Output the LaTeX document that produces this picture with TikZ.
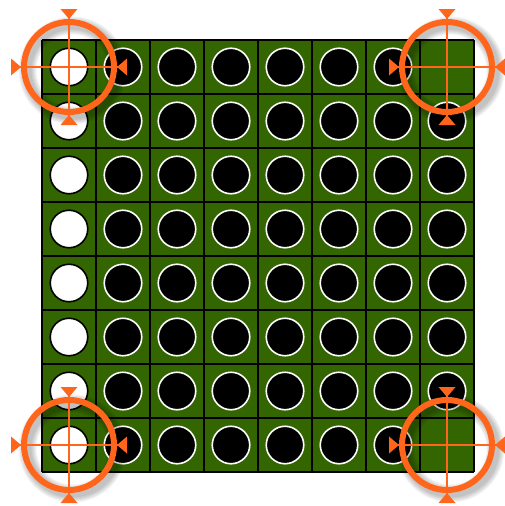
\documentclass[tikz,border=0pt]{standalone}
\definecolor{board}{RGB}{51,102,0}
\definecolor{ring}{RGB}{255,102,28}
\begin{document}
\begin{tikzpicture}[x=1pt,y=-1pt,
  grid/.style={draw=black,line width=2pt},
  blackdisc/.style={circle,fill=black,draw=white,line width=1.6pt,minimum size=37.5pt,inner sep=0pt},
  whitedisc/.style={circle,fill=white,draw=black,line width=1.6pt,minimum size=37.5pt,inner sep=0pt},
  target/.pic={
    \foreach \k in {1,...,6}{
      \draw[black,opacity=0.045,line width={6pt+2*\k pt}] (3.5,3.5) circle (45);
    }
    \draw[ring,line width=6pt] (0,0) circle (45);
    \draw[ring,line width=1.8pt] (-57,0) -- (57,0);
    \draw[ring,line width=1.8pt] (0,-57) -- (0,57);
    \fill[ring] (-58,-8.5) -- (-48,0) -- (-58,8.5) -- cycle;
    \fill[ring] (58,-8.5) -- (48,0) -- (58,8.5) -- cycle;
    \fill[ring] (-8.5,-58) -- (0,-48) -- (8.5,-58) -- cycle;
    \fill[ring] (-8.5,58) -- (0,48) -- (8.5,58) -- cycle;
  }]
\useasboundingbox (0,0) rectangle (504,506);
\fill[board] (42,40) rectangle (474,472);
\foreach \i in {0,...,8}{
  \draw[grid] (42+54*\i,40) -- (42+54*\i,472);
  \draw[grid] (42,40+54*\i) -- (474,40+54*\i);
}
% white column
\foreach \r in {0,...,7}{
  \node[whitedisc] (w\r) at (69,67+54*\r) {};
}
% black columns
\foreach \c in {1,...,6}{
  \foreach \r in {0,...,7}{
    \node[blackdisc] (b\c\r) at (69+54*\c,67+54*\r) {};
  }
}
\foreach \r in {1,...,6}{
  \node[blackdisc] (b7\r) at (447,67+54*\r) {};
}
% targets
\pic (tl) at (69,67) {target};
\pic (tr) at (447,67) {target};
\pic (bl) at (69,445) {target};
\pic (br) at (447,445) {target};
\end{tikzpicture}
\end{document}
